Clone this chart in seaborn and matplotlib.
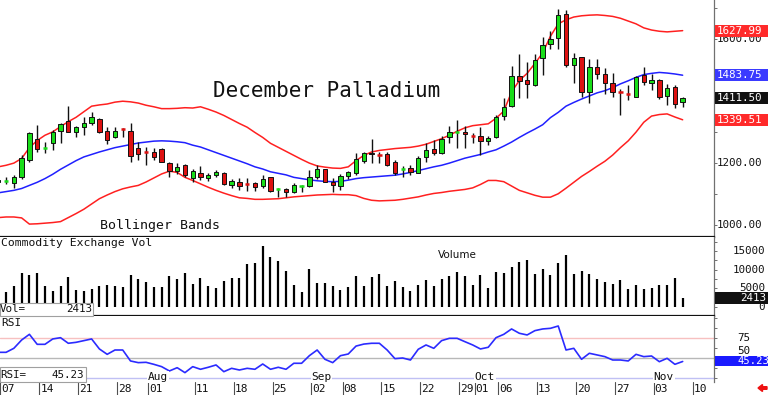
import numpy as np
import pandas as pd
import matplotlib
matplotlib.use("Agg")
import matplotlib.pyplot as plt
import seaborn as sns
from matplotlib.patches import Rectangle, FancyArrow
from matplotlib.transforms import blended_transform_factory, IdentityTransform

# ---------------- data ----------------
opens = [1140, 1140, 1135, 1156, 1210, 1277, 1248, 1264, 1305, 1337, 1299, 1318, 1331, 1341, 1305, 1284,
         1312, 1305, 1250, 1236, 1237, 1244, 1201, 1176, 1194, 1151, 1167, 1152, 1160, 1167, 1130, 1138,
         1133, 1135, 1126, 1154, 1115, 1116, 1106, 1126, 1126, 1156, 1180, 1140, 1126, 1159, 1167, 1208,
         1232, 1228, 1228, 1204, 1178, 1183, 1169, 1219, 1245, 1232, 1284, 1300, 1302, 1290, 1288, 1270,
         1284, 1353, 1384, 1481, 1468, 1452, 1539, 1585, 1603, 1682, 1517, 1542, 1431, 1509, 1488, 1458,
         1432, 1423, 1415, 1484, 1458, 1468, 1418, 1447, 1397]
highs = [1152, 1156, 1162, 1226, 1302, 1323, 1269, 1306, 1329, 1384, 1320, 1350, 1364, 1345, 1318, 1318,
         1314, 1329, 1269, 1253, 1248, 1250, 1205, 1199, 1198, 1180, 1191, 1167, 1177, 1170, 1150, 1153,
         1151, 1140, 1161, 1156, 1118, 1120, 1135, 1129, 1178, 1194, 1182, 1151, 1165, 1176, 1232, 1237,
         1277, 1237, 1237, 1210, 1191, 1194, 1223, 1266, 1275, 1286, 1320, 1339, 1320, 1296, 1318, 1287,
         1357, 1409, 1514, 1552, 1528, 1551, 1608, 1628, 1697, 1695, 1555, 1544, 1535, 1535, 1506, 1490,
         1439, 1452, 1482, 1510, 1488, 1471, 1455, 1452, 1415]
lows = [1130, 1133, 1120, 1148, 1204, 1237, 1232, 1242, 1264, 1299, 1285, 1291, 1323, 1298, 1261, 1280,
        1283, 1204, 1210, 1194, 1210, 1203, 1156, 1165, 1155, 1140, 1145, 1142, 1154, 1128, 1119, 1113,
        1110, 1110, 1119, 1108, 1092, 1090, 1103, 1108, 1124, 1148, 1138, 1108, 1112, 1150, 1162, 1199,
        1200, 1199, 1190, 1162, 1156, 1162, 1167, 1204, 1226, 1228, 1264, 1250, 1248, 1264, 1226, 1258,
        1280, 1339, 1382, 1409, 1409, 1449, 1485, 1568, 1568, 1512, 1458, 1412, 1393, 1471, 1423, 1413,
        1355, 1404, 1412, 1452, 1436, 1407, 1388, 1377, 1380]
closes = [1145, 1143, 1156, 1215, 1298, 1246, 1251, 1301, 1325, 1300, 1316, 1331, 1350, 1300, 1275, 1304,
          1309, 1223, 1230, 1233, 1219, 1205, 1175, 1186, 1160, 1176, 1155, 1161, 1172, 1132, 1142, 1127,
          1131, 1124, 1148, 1111, 1117, 1106, 1128, 1128, 1154, 1181, 1140, 1128, 1158, 1170, 1212, 1232,
          1228, 1226, 1194, 1167, 1181, 1172, 1215, 1242, 1232, 1277, 1302, 1303, 1294, 1287, 1272, 1282,
          1350, 1382, 1481, 1465, 1456, 1533, 1582, 1600, 1678, 1517, 1539, 1431, 1512, 1488, 1460, 1431,
          1430, 1421, 1479, 1461, 1468, 1415, 1442, 1391, 1411.5]
volume = [np.nan, 4020, 5570, 9020, 8560, 9185, 5570, 4210, 5570, 7930, 4480, 4100, 4700, 5660, 5840, 5660,
          5210, 8560, 7390, 6570, 5380, 5210, 8290, 7390, 9020, 6110, 7660, 5660, 4940, 6930, 7840, 7840,
          11550, 11900, 16440, 13530, 12360, 9650, 5840, 3860, 10190, 6470, 6300, 5660, 4480, 5380, 8200,
          5570, 8015, 8740, 5570, 6840, 5300, 4120, 5750, 7200, 5480, 7470, 8200, 9460, 8200, 5750, 8470,
          5030, 9370, 9100, 10730, 12090, 12630, 8830, 10280, 8560, 11730, 13900, 8740, 9650, 8830, 7560,
          6660, 6020, 7290, 4850, 5840, 4850, 5030, 5930, 5930, 7740, 2413]
rsi = [56.7, 56.7, 61.7, 72.1, 79.2, 66.7, 66.7, 73.4, 75.0, 68.0, 69.2, 71.3, 73.4, 60.9, 54.2, 59.6,
       59.6, 45.9, 43.8, 44.2, 41.7, 38.8, 33.4, 37.5, 31.3, 38.8, 35.5, 38.0, 40.9, 32.5, 36.7, 34.6,
       36.7, 35.5, 42.1, 35.5, 38.0, 35.5, 43.0, 43.0, 52.5, 59.6, 48.0, 43.8, 52.5, 54.6, 64.5, 67.0,
       68.0, 68.0, 59.6, 48.8, 49.6, 47.1, 60.5, 65.9, 61.7, 71.3, 74.2, 74.2, 70.0, 65.9, 60.9, 63.0,
       75.0, 79.2, 85.9, 80.5, 78.4, 83.8, 85.9, 86.7, 89.6, 59.6, 61.7, 48.0, 55.5, 53.4, 51.3, 47.1,
       47.1, 45.9, 54.2, 51.3, 52.1, 45.0, 49.2, 41.7, 45.23]
bb_upper = [1188, 1193, 1200, 1215, 1250, 1273, 1290, 1301, 1318, 1334, 1348, 1366, 1384, 1388, 1391, 1397,
            1400, 1398, 1394, 1387, 1382, 1376, 1376, 1377, 1379, 1378, 1382, 1374, 1365, 1354, 1341, 1328,
            1316, 1299, 1283, 1264, 1251, 1238, 1225, 1212, 1200, 1191, 1187, 1184, 1183, 1188, 1208, 1225,
            1236, 1241, 1244, 1247, 1249, 1251, 1255, 1261, 1270, 1279, 1290, 1303, 1314, 1321, 1324, 1327,
            1345, 1368, 1430, 1467, 1490, 1522, 1556, 1610, 1650, 1663, 1672, 1676, 1678, 1679, 1677, 1674,
            1668, 1659, 1650, 1637, 1630, 1626, 1624, 1626, 1628]
bb_middle = [1104, 1108, 1112, 1118, 1128, 1138, 1150, 1164, 1180, 1194, 1208, 1220, 1228, 1236, 1243, 1250,
             1255, 1260, 1265, 1268, 1271, 1272, 1271, 1269, 1266, 1258, 1252, 1243, 1234, 1225, 1216, 1207,
             1198, 1188, 1181, 1172, 1167, 1162, 1154, 1150, 1146, 1143, 1141, 1140, 1141, 1145, 1150, 1153,
             1155, 1157, 1159, 1161, 1165, 1170, 1176, 1182, 1188, 1193, 1200, 1208, 1216, 1222, 1228, 1236,
             1243, 1255, 1268, 1283, 1297, 1310, 1324, 1347, 1364, 1384, 1396, 1407, 1417, 1427, 1434, 1444,
             1456, 1466, 1477, 1486, 1490, 1493, 1491, 1488, 1484]
bb_lower = [1024, 1026, 1026, 1023, 1003, 1004, 1006, 1008, 1011, 1024, 1037, 1051, 1068, 1085, 1097, 1108,
            1117, 1123, 1128, 1139, 1152, 1165, 1174, 1170, 1154, 1144, 1133, 1122, 1112, 1103, 1095, 1088,
            1086, 1083, 1083, 1084, 1085, 1088, 1091, 1093, 1095, 1097, 1098, 1099, 1098, 1098, 1095, 1086,
            1080, 1078, 1079, 1080, 1083, 1087, 1091, 1097, 1102, 1105, 1109, 1112, 1115, 1120, 1131, 1144,
            1144, 1140, 1126, 1112, 1104, 1096, 1090, 1090, 1101, 1119, 1138, 1157, 1173, 1190, 1206, 1226,
            1250, 1272, 1300, 1332, 1352, 1357, 1359, 1349, 1340]

tick_idx = [0, 5, 10, 15, 19, 25, 30, 35, 40, 44, 49, 54, 59, 61, 64, 69, 74, 79, 84, 89]
tick_labels = ["07", "14", "21", "28", "01", "11", "18", "25", "02", "08", "15", "22", "29", "01",
               "06", "13", "20", "27", "03", "10"]
month_names = ["Aug", "Sep", "Oct", "Nov"]
month_idx = [19, 40, 61, 84]
price_ticks = [1000, 1200, 1600]
vol_ticks = [0, 5000, 10000, 15000]
rsi_ticks = [50, 75]
last_upper, last_middle, last_close, last_lower = 1627.99, 1483.75, 1411.50, 1339.51
last_vol, last_rsi = 2413, 45.23

# ---------------- style ----------------
sns.set_theme(style="white")
plt.rcParams["font.family"] = ["DejaVu Sans Mono", "DejaVu Sans"]

W, H = 768, 395
fig = plt.figure(figsize=(W / 100, H / 100), dpi=100)
fig.patch.set_facecolor("white")


def ax_at(top, bottom, right=714):
    return fig.add_axes([0, 1 - bottom / H, right / W, (bottom - top) / H])


ax_p = ax_at(0, 237)
ax_v = ax_at(237, 316)
ax_r = ax_at(316, 382)

XL = (0.219, 92.03)
for ax in (ax_p, ax_v, ax_r):
    ax.set_xlim(*XL)
    ax.set_facecolor("white")
    ax.set_xticks([])
    for s in ax.spines.values():
        s.set_visible(False)
    ax.spines["right"].set_visible(True)
    ax.spines["right"].set_color("#707070")
    ax.spines["right"].set_linewidth(0.9)
    ax.yaxis.tick_right()
    ax.tick_params(axis="y", which="both", direction="out", length=2.5, width=0.7,
                   color="#707070", labelright=False, labelleft=False, right=True, left=False)

ax_p.set_ylim(961.3, 1727)
ax_v.set_ylim(-2581, 18883)
ax_r.set_ylim(19.6, 102.1)

for ax in (ax_p, ax_v):
    ax.spines["bottom"].set_visible(True)
    ax.spines["bottom"].set_color("#111111")
    ax.spines["bottom"].set_linewidth(1.6)

ax_p.set_yticks(np.arange(1000, 1701, 100))
ax_v.set_yticks(np.arange(0, 17501, 2500))
ax_r.set_yticks(np.arange(25, 101, 12.5))

idx = np.arange(len(closes))

# ---------------- price panel ----------------
sns.lineplot(x=idx, y=bb_upper, ax=ax_p, color="#ff2020", linewidth=1.1, legend=False)
sns.lineplot(x=idx, y=bb_lower, ax=ax_p, color="#ff2020", linewidth=1.1, legend=False)
sns.lineplot(x=idx, y=bb_middle, ax=ax_p, color="#2020ff", linewidth=1.1, legend=False)

green, red = "#19dd19", "#dd1111"
bw = 0.56
for i in idx:
    o, h, l, c = opens[i], highs[i], lows[i], closes[i]
    col = green if c >= o else red
    ax_p.vlines(i, l, h, color="#111111", linewidth=1.0, zorder=3)
    if abs(c - o) < 4:
        ax_p.hlines((o + c) / 2, i - bw / 2, i + bw / 2, color=col, linewidth=1.8, zorder=4)
    else:
        ax_p.add_patch(Rectangle((i - bw / 2, min(o, c)), bw, abs(c - o), facecolor=col,
                                 edgecolor="#111111", linewidth=0.7, zorder=4))

# ---------------- volume panel ----------------
vol = np.array(volume, dtype=float)
ok = ~np.isnan(vol)
ax_v.vlines(idx[ok], 0, vol[ok], color="#000000", linewidth=1.6)

# ---------------- RSI panel ----------------
ax_r.axhline(75, color="#f7c0c0", linewidth=1.0, zorder=1)
ax_r.axhline(50, color="#b8b8b8", linewidth=1.0, zorder=1)
ax_r.axhline(25, color="#c0c0f4", linewidth=1.0, zorder=1)
sns.lineplot(x=idx, y=rsi, ax=ax_r, color="#2b2bff", linewidth=1.2, legend=False)


# ---------------- texts ----------------
def ftext(px, py, s, **kw):
    return fig.text(px / W, 1 - py / H, s, **kw)


ftext(213, 91, "December Palladium", fontsize=15, va="center", ha="left", color="#111111")
ftext(100, 225, "Bollinger Bands", fontsize=9.5, va="center", ha="left", color="#111111")
ftext(1, 243.5, "Commodity Exchange Vol", fontsize=8.2, va="center", ha="left", color="#111111")
ftext(438, 254.5, "Volume", fontsize=7.5, va="center", ha="left", color="#111111",
      family=["DejaVu Sans"])
ftext(1, 323.5, "RSI", fontsize=8, va="center", ha="left", color="#111111")

# value boxes at the lower-left of volume and RSI panels
fig.add_artist(Rectangle((0, H - 316), 93, 13.3, transform=IdentityTransform(),
                         facecolor="white", edgecolor="#a0a0a0", linewidth=0.8, zorder=10))
ftext(0, 309.5, "Vol=", fontsize=7.8, va="center", ha="left", color="#111111", zorder=11)
ftext(92, 309.5, f"{last_vol}", fontsize=7.8, va="center", ha="right", color="#111111", zorder=11)
fig.add_artist(Rectangle((0, H - 382), 86, 15.3, transform=IdentityTransform(),
                         facecolor="white", edgecolor="#a0a0a0", linewidth=0.8, zorder=10))
ftext(0, 374.5, "RSI=", fontsize=7.8, va="center", ha="left", color="#111111", zorder=11)
ftext(84, 374.5, f"{last_rsi:.2f}", fontsize=7.8, va="center", ha="right", color="#111111", zorder=11)

# month labels on the RSI panel
tr_r = blended_transform_factory(ax_r.transData, ax_r.transAxes)
for name, mi in zip(month_names, month_idx):
    ax_r.text(mi + 0.27, (377 - 316) / 66 * -1 + 1, name, transform=tr_r, fontsize=8,
              ha="left", va="center", color="#111111",
              bbox=dict(facecolor="white", edgecolor="none", pad=0.6), zorder=5)

# date row under the RSI panel
for ti, tl in zip(tick_idx, tick_labels):
    xp = ti + 0.27
    ax_r.plot([xp, xp], [0, -13 / 66], transform=tr_r, color="#505050", linewidth=0.8,
              clip_on=False)
    ax_r.text(xp + 0.12, -6.5 / 66, tl, transform=tr_r, fontsize=8, ha="left", va="center",
              color="#111111", clip_on=False)

# right-hand axis labels
tr_p = blended_transform_factory(ax_p.transAxes, ax_p.transData)
for v in price_ticks:
    ax_p.text(1 + 3 / 714, v, f"{v:.2f}", transform=tr_p, fontsize=7.8, ha="left",
              va="center", color="#111111", clip_on=False)
tr_v = blended_transform_factory(ax_v.transAxes, ax_v.transData)
for v in vol_ticks:
    ax_v.text(1 + 51 / 714, v, f"{v}", transform=tr_v, fontsize=7.8, ha="right",
              va="center", color="#111111", clip_on=False)
tr_rr = blended_transform_factory(ax_r.transAxes, ax_r.transData)
for v in rsi_ticks:
    # the "50" label sits just above the current-value box, as in the reference
    nudge = 8 if v == 50 else 0
    ax_r.text(1 + 30 / 714, v + nudge, f"{v}", transform=tr_rr, fontsize=7.8, ha="center",
              va="center", color="#111111", clip_on=False)


def value_box(ax, val, s, color, align="left"):
    yd = ax.transData.transform((1, val))[1]
    fig.add_artist(Rectangle((715, yd - 6), 53, 12, transform=IdentityTransform(),
                             facecolor=color, edgecolor="none", zorder=20))
    if align == "left":
        fig.text(717 / W, yd / H, s, fontsize=7.8, color="white", ha="left", va="center",
                 zorder=21)
    else:
        fig.text(766 / W, yd / H, s, fontsize=7.8, color="white", ha="right", va="center",
                 zorder=21)


value_box(ax_p, last_upper, f"{last_upper:.2f}", "#ff2a2a")
value_box(ax_p, last_middle, f"{last_middle:.2f}", "#3a3aff")
value_box(ax_p, last_close, f"{last_close:.2f}", "#111111")
value_box(ax_p, last_lower, f"{last_lower:.2f}", "#ff2a2a")
value_box(ax_v, last_vol, f"{last_vol}", "#111111", align="right")
yd_r = ax_r.transData.transform((1, last_rsi))[1]
fig.add_artist(Rectangle((715, yd_r - 5), 53, 10, transform=IdentityTransform(),
                         facecolor="#1a1aff", edgecolor="none", zorder=20))
fig.text(737 / W, yd_r / H, f"{last_rsi:.2f}", fontsize=7.6, color="white", ha="left",
         va="center", zorder=21)

# small red arrow at the bottom right
fig.add_artist(FancyArrow(767, H - 388, -9, 0, width=2.6, head_width=7, head_length=4.5,
                          length_includes_head=True, transform=IdentityTransform(),
                          color="#ee1111", zorder=30))

fig.savefig("out.png", dpi=100, facecolor="white")
